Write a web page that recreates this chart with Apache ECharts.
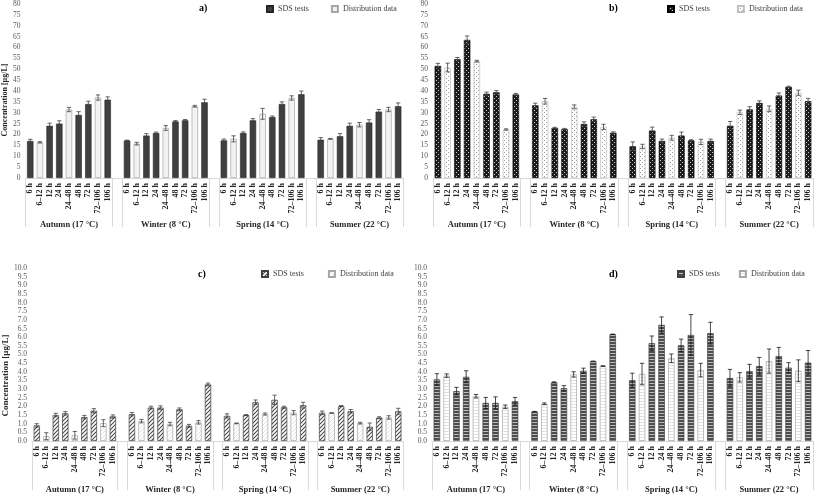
<!DOCTYPE html>
<html><head><meta charset="utf-8">
<script src="https://cdn.jsdelivr.net/npm/echarts@6/dist/echarts.min.js"></script>
<style>html,body{margin:0;padding:0;background:#fff}#c{width:817px;height:495px}</style>
</head><body><div id="c"></div>
<script>
// ---------- data ----------
const categories = ['6 h', '6–12 h', '12 h', '24 h', '24–48 h', '48 h', '72 h', '72–106 h', '106 h'];
const seasons = ['Autumn (17 °C)', 'Winter (8 °C)', 'Spring (14 °C)', 'Summer (22 °C)'];
const distributionSlots = [1, 4, 7];
const seriesNames = ['SDS tests', 'Distribution data'];
const axisName = 'Concentration [µg/L]';
const panelLabels = ['a)', 'b)', 'c)', 'd)'];

const aValues = [17, 16.4, 24, 25, 31.5, 29, 34, 37, 36,
                 17.2, 15.8, 19.5, 20.7, 23, 26, 26.5, 33, 34.8,
                 17.3, 18, 20.7, 26.5, 29.5, 28, 34, 36.8, 38.5,
                 17.6, 18, 19.2, 24, 24.5, 25.5, 30.5, 31.5, 33];
const aErrors = [0.8, 0.3, 1.2, 1.3, 1, 1.5, 1.3, 1.2, 1.3,
                 0.2, 0.6, 0.9, 0.4, 1.1, 0.4, 0.4, 0.4, 1.4,
                 0.6, 1.4, 0.5, 0.8, 2.5, 0.5, 1, 1, 1.5,
                 1, 0.2, 1.2, 1.2, 1, 1.3, 1, 1, 1.5];

const bValues = [51.5, 50.8, 54.6, 63.5, 53.7, 38.7, 39.4, 22.3, 38.4,
                 33.4, 35.3, 23, 22.5, 32.7, 24.8, 27, 23.5, 20.8,
                 14.6, 14.5, 21.8, 17, 18.5, 19.5, 17.3, 16.6, 17,
                 24, 30.2, 31.5, 34.5, 31.8, 37.9, 41.9, 39.2, 35.3];
const bErrors = [1.2, 2, 0.8, 1.8, 0.4, 0.8, 0.8, 0.3, 0.5,
                 1, 1.3, 0.3, 0.3, 0.9, 1, 1, 1.2, 0.4,
                 2, 1, 1.6, 0.9, 1.1, 1.6, 0.3, 1.2, 0.9,
                 2, 1, 1.3, 1, 1.3, 1.2, 0.3, 1.2, 1.3];

const cValues = [0.9, 0.28, 1.5, 1.6, 0.33, 1.38, 1.75, 1.03, 1.42,
                 1.55, 1.15, 1.93, 1.93, 0.98, 1.83, 0.88, 1.08, 3.27,
                 1.45, 1.02, 1.5, 2.24, 1.56, 2.38, 1.95, 1.64, 2.07,
                 1.63, 1.62, 2.02, 1.72, 1.03, 0.82, 1.35, 1.36, 1.72];
const cErrors = [0.1, 0.2, 0.1, 0.1, 0.22, 0.1, 0.12, 0.2, 0.09,
                 0.1, 0.1, 0.08, 0.1, 0.1, 0.08, 0.08, 0.1, 0.08,
                 0.12, 0.02, 0.03, 0.13, 0.06, 0.27, 0.06, 0.12, 0.17,
                 0.1, 0.02, 0.03, 0.1, 0.05, 0.22, 0.05, 0.1, 0.17];

const dValues = [3.56, 3.78, 2.88, 3.71, 2.59, 2.2, 2.2, 1.98, 2.3,
                 1.7, 2.15, 3.39, 3.05, 3.85, 4.06, 4.61, 4.33, 6.17,
                 3.52, 3.87, 5.65, 6.71, 4.78, 5.53, 6.13, 4.1, 6.23,
                 3.64, 3.68, 4.04, 4.33, 4.62, 4.91, 4.24, 4.06, 4.53];
const dErrors = [0.33, 0.1, 0.22, 0.35, 0.1, 0.32, 0.35, 0.1, 0.22,
                 0.01, 0.05, 0.03, 0.15, 0.15, 0.15, 0, 0.02, 0,
                 0.4, 0.62, 0.42, 0.46, 0.25, 0.36, 1.18, 0.39, 0.63,
                 0.5, 0.27, 0.39, 0.5, 0.7, 0.5, 0.29, 0.63, 0.7];

const yScaleAB = { min: 0, max: 80, interval: 5 };
const yScaleCD = { min: 0, max: 10, interval: 0.5 };

// ---------- helpers ----------
const FONT = '"Liberation Serif", "Times New Roman", serif';
function expand(arr, blank) {
  const out = [];
  arr.forEach((v, i) => { if (i > 0 && i % 9 === 0) out.push(blank); out.push(v); });
  return out;
}
const xCats = expand(seasons.flatMap(() => categories), '');
const groupCats = xCats.map(() => '');
[4, 14, 24, 34].forEach((p, i) => { groupCats[p] = seasons[i]; });
const sepSlots = [0, 9, 10, 19, 20, 29, 30];

function pattern(w, h, draw) {
  const c = document.createElement('canvas');
  c.width = w; c.height = h;
  draw(c.getContext('2d'));
  return { image: c, repeat: 'repeat' };
}
const pat = {
  bSds: pattern(4, 4, g => { g.fillStyle = '#1c1c1c'; g.fillRect(0, 0, 4, 4); g.fillStyle = '#cfcfcf'; g.fillRect(0, 0, 1, 1); g.fillRect(2, 2, 1, 1); }),
  bDist: pattern(4, 4, g => { g.fillStyle = '#ffffff'; g.fillRect(0, 0, 4, 4); g.fillStyle = '#9a9a9a'; g.fillRect(0, 0, 1, 1); g.fillRect(2, 2, 1, 1); }),
  cSds: pattern(4, 4, g => { g.fillStyle = '#ffffff'; g.fillRect(0, 0, 4, 4); g.strokeStyle = '#4a4a4a'; g.lineWidth = 1.1; g.beginPath(); g.moveTo(0, 4); g.lineTo(4, 0); g.moveTo(-1, 1); g.lineTo(1, -1); g.moveTo(3, 5); g.lineTo(5, 3); g.stroke(); }),
  cDist: pattern(4, 4, g => { g.fillStyle = '#ffffff'; g.fillRect(0, 0, 4, 4); g.strokeStyle = '#e3e3e3'; g.lineWidth = 1; g.beginPath(); g.moveTo(0, 4); g.lineTo(4, 0); g.moveTo(-1, 1); g.lineTo(1, -1); g.moveTo(3, 5); g.lineTo(5, 3); g.stroke(); }),
  dSds: pattern(2, 3, g => { g.fillStyle = '#4d4d4d'; g.fillRect(0, 0, 2, 2); g.fillStyle = '#bdbdbd'; g.fillRect(0, 2, 2, 1); }),
  dDist: pattern(2, 3, g => { g.fillStyle = '#ffffff'; g.fillRect(0, 0, 2, 3); g.fillStyle = '#e2e2e2'; g.fillRect(0, 2, 2, 1); })
};

const panels = [
  { key: 'a', values: aValues, errors: aErrors, y: yScaleAB, grid: { left: 24, right: 414, top: 4, bottom: 317 },
    sds: { color: '#404040', borderColor: '#262626', borderWidth: 0.6 }, dist: { color: '#f2f2f2', borderColor: '#a6a6a6', borderWidth: 0.7 },
    errColor: '#404040', legend: { left: 266, top: 5, itemGap: 22 }, title: { left: 199, top: 3 }, name: true, nameSize: 8, nameGap: 16, nameShift: 9, dec: 0, groupMargin: 42 },
  { key: 'b', values: bValues, errors: bErrors, y: yScaleAB, grid: { left: 433, right: 4, top: 4, bottom: 317 },
    sds: { color: pat.bSds, borderColor: '#000', borderWidth: 0.6 }, dist: { color: pat.bDist, borderColor: '#bfbfbf', borderWidth: 0.7 },
    errColor: '#404040', legend: { left: 667, top: 5, itemGap: 27 }, title: { left: 609, top: 3 }, name: false, dec: 0, groupMargin: 42 },
  { key: 'c', values: cValues, errors: cErrors, y: yScaleCD, grid: { left: 29, right: 414, top: 268, bottom: 54 },
    sds: { color: pat.cSds, borderColor: '#404040', borderWidth: 0.7 }, dist: { color: pat.cDist, borderColor: '#a6a6a6', borderWidth: 0.7 },
    errColor: '#404040', legend: { left: 261, top: 270, itemGap: 24 }, title: { left: 198, top: 269 }, name: true, nameSize: 9, nameGap: 20, nameShift: 21, dec: 1, groupMargin: 44 },
  { key: 'd', values: dValues, errors: dErrors, y: yScaleCD, grid: { left: 432, right: 4, top: 268, bottom: 54 },
    sds: { color: pat.dSds, borderColor: '#404040', borderWidth: 0.7 }, dist: { color: pat.dDist, borderColor: '#a6a6a6', borderWidth: 0.7 },
    errColor: '#1a1a1a', legend: { left: 677, top: 270, itemGap: 19 }, title: { left: 609, top: 269 }, name: false, dec: 1, groupMargin: 44 }
];

const option = { animation: false, backgroundColor: '#fff', grid: [], xAxis: [], yAxis: [], series: [], legend: [], title: [] };

panels.forEach((p, k) => {
  option.grid.push(Object.assign({ containLabel: false }, p.grid));
  option.xAxis.push({
    type: 'category', gridIndex: k, data: xCats,
    axisLine: { show: true, lineStyle: { color: '#d9d9d9', width: 1 } },
    axisTick: { show: false },
    axisLabel: { interval: 0, rotate: 90, margin: 5, fontFamily: FONT, fontSize: 8, fontWeight: 'bold', color: '#262626' }
  });
  option.xAxis.push({
    type: 'category', gridIndex: k, data: groupCats, position: 'bottom',
    axisLine: { show: false },
    axisTick: { show: true, length: 49, lineStyle: { color: '#d9d9d9', width: 1 }, interval: (i) => sepSlots.includes(i) },
    axisLabel: { interval: 0, margin: p.groupMargin, fontFamily: FONT, fontSize: 8.5, fontWeight: 'bold', color: '#262626' }
  });
  const yAx = {
    type: 'value', gridIndex: k, min: p.y.min, max: p.y.max, interval: p.y.interval,
    axisLine: { show: false }, axisTick: { show: false }, splitLine: { show: false },
    axisLabel: { margin: 5, fontFamily: FONT, fontSize: 7.5, color: '#595959', formatter: v => v.toFixed(p.dec) }
  };
  if (p.name) {
    Object.assign(yAx, {
      name: axisName, nameLocation: 'middle', nameGap: p.nameGap,
      nameTextStyle: { fontFamily: FONT, fontSize: p.nameSize, fontWeight: 'bold', color: '#262626', padding: [0, 2 * p.nameShift, 0, 0] }
    });
  }
  option.yAxis.push(yAx);

  const full = expand(p.values, null);
  const errs = expand(p.errors, null);
  const sdsData = full.map((v, i) => {
    if (v === null) return '-';
    const slot = i % 10;
    return distributionSlots.includes(slot) ? '-' : v;
  });
  const distData = full.map((v, i) => {
    if (v === null) return '-';
    const slot = i % 10;
    return distributionSlots.includes(slot) ? v : '-';
  });
  const errData = [];
  full.forEach((v, i) => { if (v !== null) errData.push([i, v, errs[i]]); });

  const common = { type: 'bar', xAxisIndex: 2 * k, yAxisIndex: k, barWidth: '66%', barGap: '-100%', emphasis: { disabled: true }, silent: true };
  option.series.push(Object.assign({}, common, { name: p.key + '|' + seriesNames[0], data: sdsData, itemStyle: p.sds }));
  option.series.push(Object.assign({}, common, { name: p.key + '|' + seriesNames[1], data: distData, itemStyle: p.dist }));
  option.series.push({
    type: 'custom', name: p.key + '|err', xAxisIndex: 2 * k, yAxisIndex: k, data: errData, z: 5, silent: true,
    encode: { x: 0, y: 1 },
    renderItem: (params, api) => {
      const x = api.value(0), y = api.value(1), e = api.value(2);
      const hi = api.coord([x, y + e]), lo = api.coord([x, y - e]);
      const half = api.size([1, 0])[0] * 0.22;
      const st = { stroke: p.errColor, lineWidth: 0.8 };
      return { type: 'group', children: [
        { type: 'line', shape: { x1: hi[0], y1: hi[1], x2: lo[0], y2: lo[1] }, style: st },
        { type: 'line', shape: { x1: hi[0] - half, y1: hi[1], x2: hi[0] + half, y2: hi[1] }, style: st },
        { type: 'line', shape: { x1: lo[0] - half, y1: lo[1], x2: lo[0] + half, y2: lo[1] }, style: st }
      ] };
    }
  });
  option.legend.push({
    data: seriesNames.map(n => p.key + '|' + n), formatter: n => n.split('|')[1],
    left: p.legend.left, top: p.legend.top, itemGap: p.legend.itemGap, itemWidth: 6, itemHeight: 6, icon: 'rect',
    selectedMode: false, padding: 0,
    textStyle: { fontFamily: FONT, fontSize: 8, color: '#404040' }
  });
  option.title.push({
    text: panelLabels[k], left: p.title.left, top: p.title.top, padding: 0,
    textStyle: { fontFamily: FONT, fontSize: 10, fontWeight: 'bold', color: '#000' }
  });
});

const chart = echarts.init(document.getElementById('c'), null, { renderer: 'canvas' });
chart.setOption(option);
</script>
</body></html>
